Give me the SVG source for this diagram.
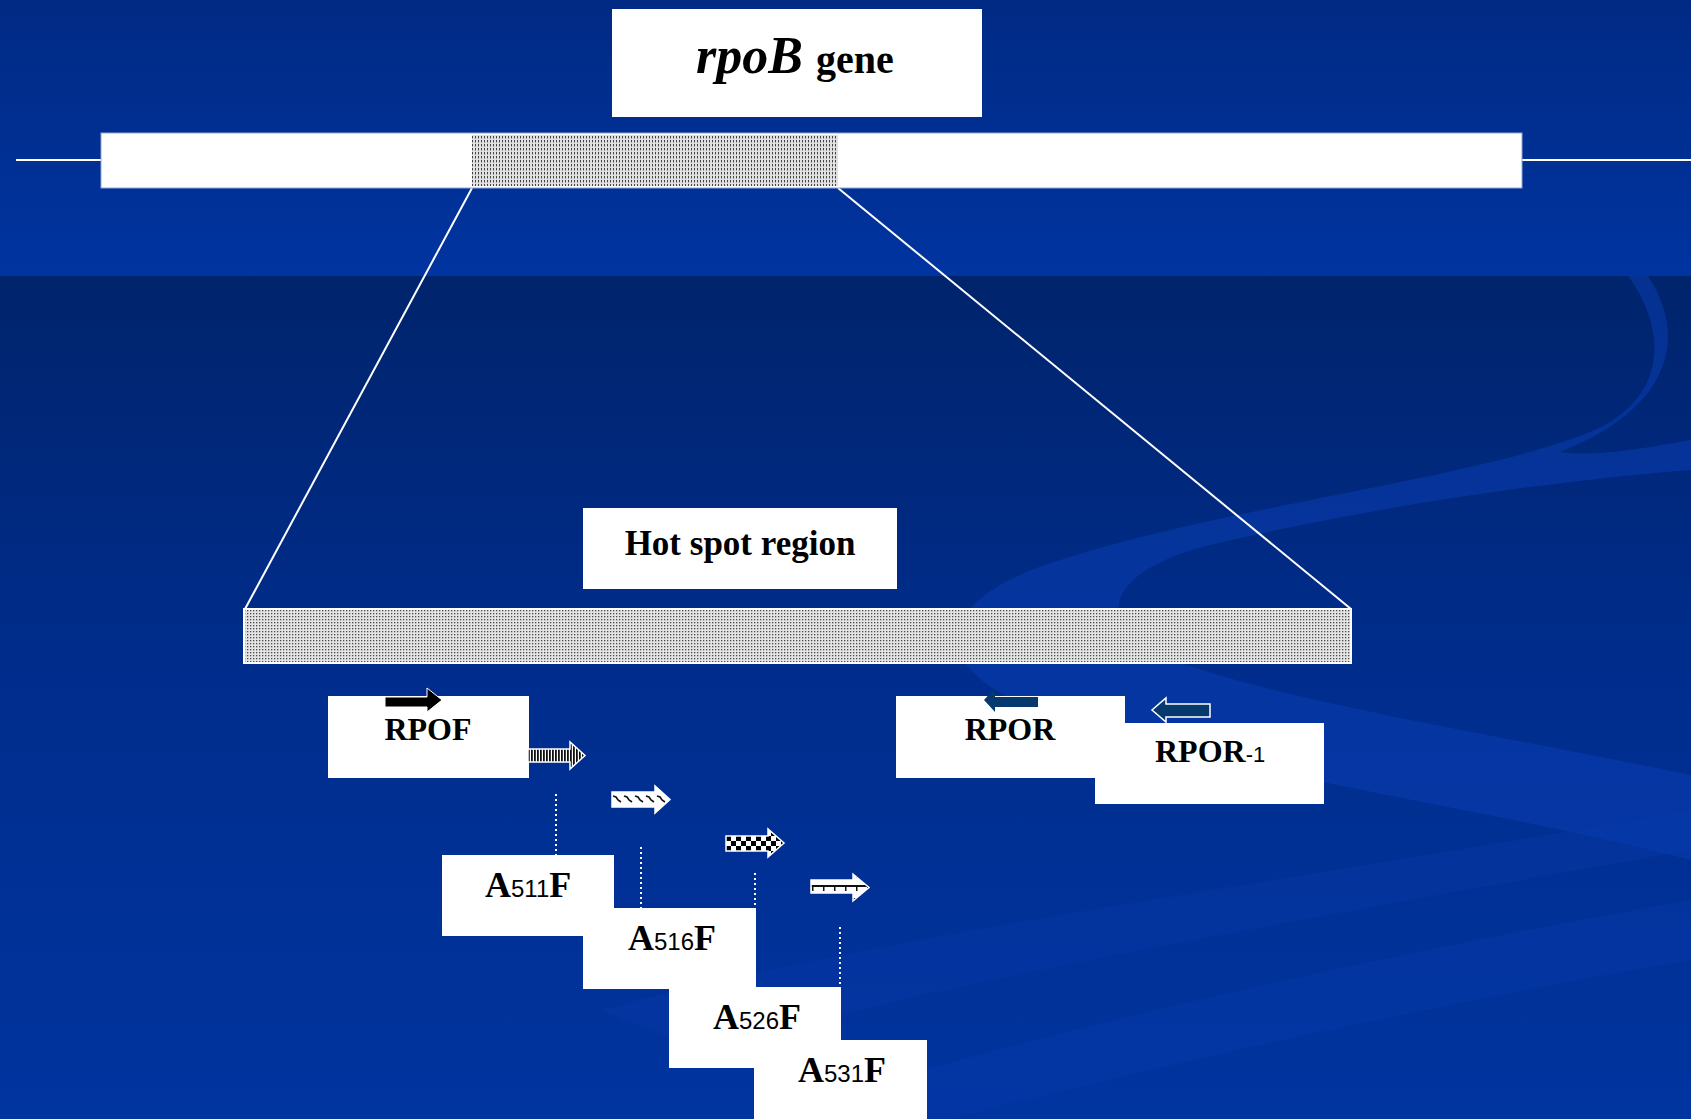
<svg xmlns="http://www.w3.org/2000/svg" width="1691" height="1119" viewBox="0 0 1691 1119">
<defs>
<linearGradient id="bgTop" x1="0" y1="0" x2="0" y2="1">
<stop offset="0" stop-color="#012a84"/>
<stop offset="1" stop-color="#0034a0"/>
</linearGradient>
<linearGradient id="bgLow" x1="0" y1="0" x2="0" y2="1">
<stop offset="0" stop-color="#00246c"/>
<stop offset="0.45" stop-color="#002d8c"/>
<stop offset="1" stop-color="#00349f"/>
</linearGradient>
<pattern id="dots" width="3" height="3" patternUnits="userSpaceOnUse">
<rect width="3" height="3" fill="#e4e4e4"/>
<rect x="1" y="1" width="1.3" height="1.3" fill="#4a4a4a"/>
</pattern>
<pattern id="dash" width="3" height="4" patternUnits="userSpaceOnUse">
<rect width="3" height="4" fill="#e0e0e0"/>
<rect x="1" y="0" width="1" height="2.4" fill="#444"/>
</pattern>
<pattern id="stripes" width="3" height="10" patternUnits="userSpaceOnUse">
<rect width="3" height="10" fill="#fff"/>
<rect x="0" y="0" width="1.8" height="10" fill="#111"/>
</pattern>
<pattern id="wavy" width="11" height="15" patternUnits="userSpaceOnUse" x="612" y="792">
<rect width="11" height="15" fill="#fff"/>
<path d="M1,4 L4,5 L6,8 L9,10" fill="none" stroke="#111" stroke-width="1.6"/>
</pattern>
<pattern id="checker" width="10" height="10" patternUnits="userSpaceOnUse" x="726" y="836">
<rect width="10" height="10" fill="#fff"/>
<rect x="0" y="0" width="5" height="5" fill="#000"/>
<rect x="5" y="5" width="5" height="5" fill="#000"/>
</pattern>
<pattern id="rail" width="11" height="13" patternUnits="userSpaceOnUse" x="811" y="880">
<rect width="11" height="13" fill="#fff"/>
<rect x="0" y="5" width="11" height="2" fill="#111"/>
<rect x="1" y="5" width="1.5" height="6" fill="#111"/>
</pattern>
</defs>
<style>
.box{fill:#fff}
.lbl{font-family:"Liberation Serif","Times New Roman",serif;font-weight:bold;fill:#000}
.num{font-family:"Liberation Sans",Arial,sans-serif;font-weight:normal;fill:#000}
.conn{stroke:#fff;stroke-width:2;fill:none}
.dot{stroke:#fff;stroke-width:2;stroke-dasharray:2 3;fill:none}
.arr{stroke:#fff;stroke-width:1.5}
</style>

<g id="background">
<rect x="0" y="0" width="1691" height="276" fill="url(#bgTop)"/>
<rect x="0" y="276" width="1691" height="843" fill="url(#bgLow)"/>
<path d="M1628,276 C1668,330 1668,400 1590,432 C1470,480 1230,505 1060,560 C930,600 920,670 1050,715 C1260,780 1500,810 1691,860 L1691,775 C1500,735 1270,700 1160,655 C1090,620 1110,570 1210,545 C1380,505 1560,480 1691,470 L1691,440 C1610,455 1580,455 1560,452 C1668,410 1690,340 1648,276 Z" fill="#0a3db0" opacity="0.55"/>
<path d="M760,1119 C1000,1040 1350,960 1691,900 L1691,960 C1400,1010 1100,1080 950,1119 Z" fill="#0a3db0" opacity="0.35"/>
<path d="M600,1010 C900,930 1300,880 1691,810 L1691,850 C1300,920 950,980 700,1050 Z" fill="#0a3db0" opacity="0.25"/>
</g>

<g id="connectors">
<line class="conn" x1="16" y1="160" x2="101" y2="160"/>
<line class="conn" x1="1522" y1="160" x2="1691" y2="160"/>
<line class="conn" x1="472" y1="188" x2="245" y2="609"/>
<line class="conn" x1="838" y1="188" x2="1351" y2="609"/>
<line class="dot" x1="556" y1="794" x2="556" y2="855"/>
<line class="dot" x1="641" y1="847" x2="641" y2="908"/>
<line class="dot" x1="755" y1="873" x2="755" y2="908"/>
<line class="dot" x1="840" y1="927" x2="840" y2="987"/>
</g>

<g id="title">
<rect class="box" x="612" y="9" width="370" height="108"/>
<text class="lbl" x="696" y="73" font-size="52"><tspan font-style="italic">rpoB</tspan><tspan font-size="40" dx="13">gene</tspan></text>
</g>

<g id="gene-bar">
<rect x="101" y="133" width="1421" height="55" fill="#fff" stroke="#8fa8d8" stroke-width="1"/>
<rect x="472" y="135" width="366" height="51" fill="url(#dash)"/>
</g>

<g id="hotspot-label">
<rect class="box" x="583" y="508" width="314" height="81"/>
<text class="lbl" x="740" y="555" font-size="35" text-anchor="middle">Hot spot region</text>
</g>

<g id="hotspot-bar">
<rect x="244" y="609" width="1107" height="54" fill="url(#dots)" stroke="#fff" stroke-width="2"/>
</g>

<g id="a511f">
<rect class="box" x="442" y="855" width="172" height="81"/>
<text class="lbl" x="485" y="897" font-size="36">A<tspan class="num" font-size="24">511</tspan>F</text>
</g>
<g id="a516f">
<rect class="box" x="583" y="908" width="173" height="81"/>
<text class="lbl" x="628" y="950" font-size="36">A<tspan class="num" font-size="24">516</tspan>F</text>
</g>
<g id="a526f">
<rect class="box" x="669" y="987" width="172" height="81"/>
<text class="lbl" x="713" y="1029" font-size="36">A<tspan class="num" font-size="24">526</tspan>F</text>
</g>
<g id="a531f">
<rect class="box" x="754" y="1040" width="173" height="80"/>
<text class="lbl" x="798" y="1082" font-size="36">A<tspan class="num" font-size="24">531</tspan>F</text>
</g>

<g id="rpof">
<rect class="box" x="328" y="696" width="201" height="82"/>
<text class="lbl" x="428" y="740" font-size="32" text-anchor="middle">RPOF</text>
<polygon points="385,697 427,697 427,688 442,700 427,712 427,707 385,707" fill="#000" stroke="#fff" stroke-width="1"/>
</g>

<g id="rpor">
<rect class="box" x="896" y="696" width="229" height="82"/>
<text class="lbl" x="1010" y="740" font-size="32" text-anchor="middle">RPOR</text>
<polygon points="1038,697 995,697 995,688 984,700 995,712 995,707 1038,707" fill="#063a6e"/>
</g>
<g id="rpor-1">
<rect class="box" x="1095" y="723" width="229" height="81"/>
<text class="lbl" x="1155" y="762" font-size="32">RPOR<tspan class="num" font-size="22">-1</tspan></text>
<polygon class="arr" points="1210,704 1166,704 1166,698 1152,710 1166,722 1166,717 1210,717" fill="#063a6e"/>
</g>

<g id="mutation-primers">
<polygon class="arr" points="528,749 570,749 570,742 585,755.5 570,769 570,762 528,762" fill="url(#stripes)"/>
<polygon class="arr" points="612,792 655,792 655,786 670,799.5 655,813 655,807 612,807" fill="url(#wavy)"/>
<polygon class="arr" points="726,836 768,836 768,829 784,843 768,857 768,851 726,851" fill="url(#checker)"/>
<polygon class="arr" points="811,880 853,880 853,874 869,887.5 853,901 853,893 811,893" fill="url(#rail)"/>
</g>
</svg>
